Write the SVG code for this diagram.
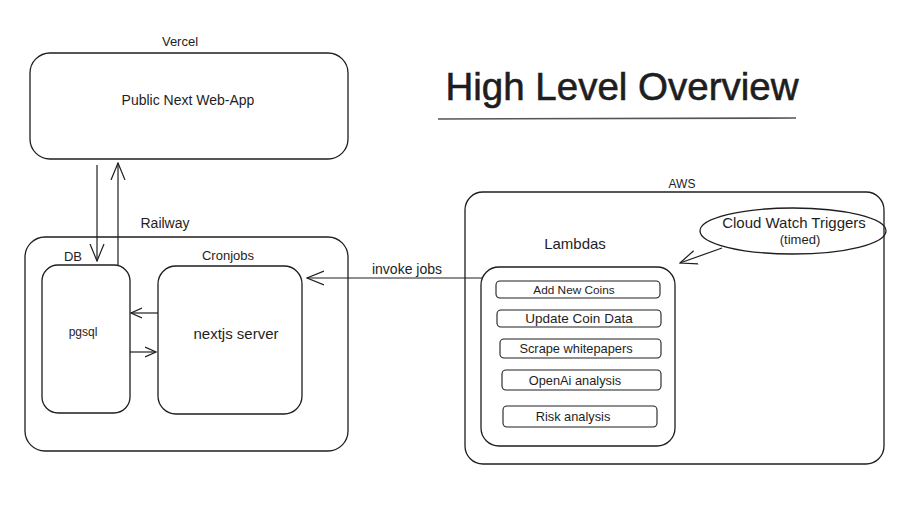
<svg xmlns="http://www.w3.org/2000/svg" width="916" height="518" viewBox="0 0 916 518">
<defs>
<marker id="ah" viewBox="0 0 12 12" refX="11" refY="6" markerWidth="12" markerHeight="12" markerUnits="userSpaceOnUse" orient="auto">
<path d="M0,1 L11,6 L0,11" fill="none" stroke="#1e1e1e" stroke-width="1.2"/>
</marker>
<marker id="ahl" viewBox="0 0 18 18" refX="17" refY="9" markerWidth="18" markerHeight="18" markerUnits="userSpaceOnUse" orient="auto">
<path d="M0,2 L17,9 L0,16" fill="none" stroke="#1e1e1e" stroke-width="1.2"/>
</marker>
</defs>
<style>
.box{fill:none;stroke:#1e1e1e;stroke-width:1.3}
.sub{fill:none;stroke:#1e1e1e;stroke-width:1.1}
.t{font-family:"Liberation Sans",Arial,sans-serif;fill:#1e1e1e;text-anchor:middle}
.s13{font-size:13px}
.s14{font-size:14px}
.s15{font-size:15px}
.s12{font-size:12px}
.s125{font-size:12.8px}
.ln{fill:none;stroke:#1e1e1e;stroke-width:1.2}
</style>
<rect width="916" height="518" fill="#ffffff"/>

<g id="title">
<text class="t" x="622" y="100" font-size="38.5" stroke="#1e1e1e" stroke-width="0.6">High Level Overview</text>
<line x1="438" y1="119" x2="796" y2="118" stroke="#555" stroke-width="1.6"/>
</g>

<g id="vercel">
<text class="t s13" x="180" y="46">Vercel</text>
<rect class="box" x="30" y="53" width="318" height="106" rx="20"/>
<text class="t s14" x="188" y="105">Public Next Web-App</text>
</g>

<g id="railway">
<text class="t s14" x="165" y="228">Railway</text>
<rect class="box" x="25" y="237" width="323" height="214" rx="20"/>
</g>

<g id="pgsql">
<text class="t s13" x="73" y="261">DB</text>
<rect class="box" x="42" y="265" width="88" height="148" rx="16"/>
<text class="t s12" x="83" y="336">pgsql</text>
</g>

<g id="nextjs">
<text class="t s13" x="228" y="260">Cronjobs</text>
<rect class="box" x="158" y="266" width="144" height="148" rx="18"/>
<text class="t s15" x="236" y="339">nextjs server</text>
</g>

<g id="aws">
<text class="t s12" x="682" y="188">AWS</text>
<rect class="box" x="465" y="192" width="419" height="272" rx="18"/>
</g>

<g id="cloudwatch">
<ellipse class="box" cx="793" cy="231" rx="93" ry="23"/>
<text class="t s15" x="794" y="228">Cloud Watch Triggers</text>
<text class="t s13" x="800" y="244">(timed)</text>
</g>

<g id="lambdas">
<text class="t s15" x="575" y="249">Lambdas</text>
<rect class="box" x="481" y="267" width="194" height="179" rx="18"/>
</g>
<g id="add-new-coins">
<rect class="sub" x="496" y="281" width="164" height="17" rx="4"/>
<text class="t" font-size="11.8" x="574" y="294">Add New Coins</text>
</g>
<g id="update-coin-data">
<rect class="sub" x="497" y="310" width="164" height="17" rx="4"/>
<text class="t" font-size="13.5" x="579" y="323">Update Coin Data</text>
</g>
<g id="scrape-whitepapers">
<rect class="sub" x="500" y="339" width="161" height="19" rx="4"/>
<text class="t s125" x="576" y="353">Scrape whitepapers</text>
</g>
<g id="openai-analysis">
<rect class="sub" x="502" y="370" width="159" height="20" rx="4"/>
<text class="t s125" x="575" y="385">OpenAi analysis</text>
</g>
<g id="risk-analysis">
<rect class="sub" x="503" y="406" width="154" height="21" rx="4"/>
<text class="t s125" x="573" y="421">Risk analysis</text>
</g>

<g id="connectors">
<line class="ln" x1="97" y1="165" x2="97" y2="261" marker-end="url(#ahl)"/>
<line class="ln" x1="118" y1="266" x2="118" y2="163" marker-end="url(#ahl)"/>
<line class="ln" x1="158" y1="313" x2="131" y2="313" marker-end="url(#ah)"/>
<line class="ln" x1="130" y1="352" x2="156" y2="352" marker-end="url(#ah)"/>
<line class="ln" x1="482" y1="278" x2="307" y2="278" marker-end="url(#ahl)"/>
<text class="t s14" x="407" y="274">invoke jobs</text>
<line class="ln" x1="722" y1="248" x2="680" y2="263" marker-end="url(#ahl)"/>
</g>
</svg>
